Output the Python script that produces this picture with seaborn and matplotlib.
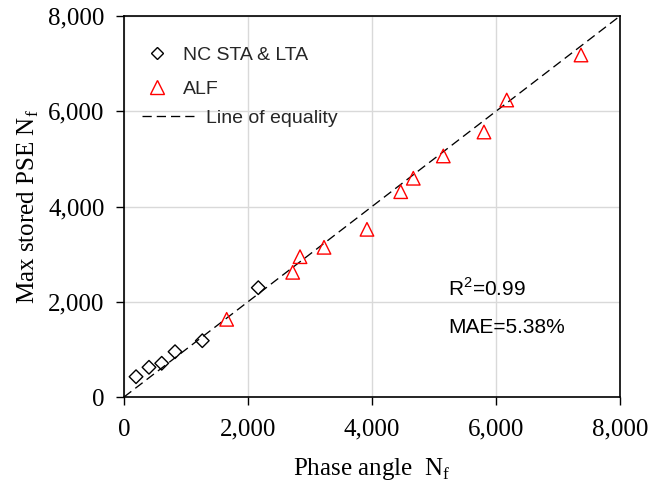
import matplotlib
matplotlib.use("Agg")
import matplotlib.pyplot as plt
import seaborn as sns
import pandas as pd
from matplotlib.lines import Line2D

# Data
nc_x = [194, 403, 608, 823, 1263, 2166]
nc_y = [426, 624, 708, 951, 1182, 2295]
alf_x = [1656, 2721, 2839, 3226, 3919, 4463, 4666, 5150, 5806, 6173, 7371]
alf_y = [1631, 2618, 2946, 3143, 3521, 4311, 4593, 5061, 5564, 6236, 7181]
equality = [0, 8000]
ticks = [0, 2000, 4000, 6000, 8000]
tick_labels = ["0", "2,000", "4,000", "6,000", "8,000"]

sns.set_theme(style="white")
plt.rcParams['font.family'] = ['Liberation Serif', 'DejaVu Serif']
plt.rcParams['mathtext.fontset'] = 'custom'
plt.rcParams['mathtext.rm'] = 'Liberation Serif'

fig = plt.figure(figsize=(6.52, 4.87), dpi=100)
ax = fig.add_axes([124 / 652, 1 - 397 / 487, 496 / 652, 381 / 487])

nc = pd.DataFrame({"x": nc_x, "y": nc_y})
alf = pd.DataFrame({"x": alf_x, "y": alf_y})
eq = pd.DataFrame({"x": equality, "y": equality})

DASH = [7, 3.8]
sns.lineplot(data=eq, x="x", y="y", ax=ax, color="black", linewidth=0.95,
             dashes=False, zorder=2)
ax.lines[-1].set_dashes(DASH)
sns.scatterplot(data=nc, x="x", y="y", ax=ax, marker="D", s=48,
                facecolor="none", edgecolor="black", linewidth=1.0, zorder=3)
sns.scatterplot(data=alf, x="x", y="y", ax=ax, marker="^", s=95,
                facecolor="none", edgecolor="#ff0000", linewidth=1.0, zorder=3)

ax.set_xlim(0, 8000)
ax.set_ylim(0, 8000)
ax.set_xticks(ticks)
ax.set_yticks(ticks)
ax.set_xticklabels(tick_labels)
ax.set_yticklabels(tick_labels)
ax.grid(True, color="#d9d9d9", linewidth=1.0)
ax.set_axisbelow(True)
for s in ax.spines.values():
    s.set_color("black")
    s.set_linewidth(1.2)
ax.tick_params(axis="both", which="major", direction="out", length=6,
               width=1.0, color="black", labelsize=18, labelcolor="black",
               bottom=True, left=True, top=False, right=False)
ax.tick_params(axis="x", pad=9.5)
ax.tick_params(axis="y", pad=8)

ax.set_xlabel("Phase angle  N$_\\mathregular{f}$", fontsize=18, color="black", labelpad=11)
ax.set_ylabel("Max stored PSE N$_\\mathregular{f}$", fontsize=18, color="black", labelpad=5)

sans = ['Liberation Sans', 'DejaVu Sans']
h1 = [Line2D([], [], linestyle="none", marker="D", markersize=6.2,
             markerfacecolor="none", markeredgecolor="black", markeredgewidth=1.0),
      Line2D([], [], linestyle="none", marker="^", markersize=9.5,
             markerfacecolor="none", markeredgecolor="#ff0000", markeredgewidth=1.0)]
leg1 = ax.legend(h1, ["NC STA & LTA", "ALF"], loc="center left",
                 bbox_to_anchor=(0.047, 0.853), frameon=False,
                 prop={"family": sans, "size": 14}, handlelength=1.0,
                 handletextpad=0.84, labelspacing=0.87, borderpad=0,
                 borderaxespad=0)
ax.add_artist(leg1)
h2 = [Line2D([], [], color="black", linewidth=0.95, dashes=DASH)]
ax.legend(h2, ["Line of equality"], loc="center left",
          bbox_to_anchor=(0.036, 0.733), frameon=False,
          prop={"family": sans, "size": 14}, handlelength=2.88,
          handletextpad=0.41, borderpad=0, borderaxespad=0)

ax.text(0.653, 0.265, "R$^\\mathregular{2}$=0.99", transform=ax.transAxes,
        fontsize=15, family=sans, va="baseline", ha="left", color="black")
ax.text(0.653, 0.168, "MAE=5.38%", transform=ax.transAxes,
        fontsize=15, family=sans, va="baseline", ha="left", color="black")

fig.savefig("out.png", dpi=100)
